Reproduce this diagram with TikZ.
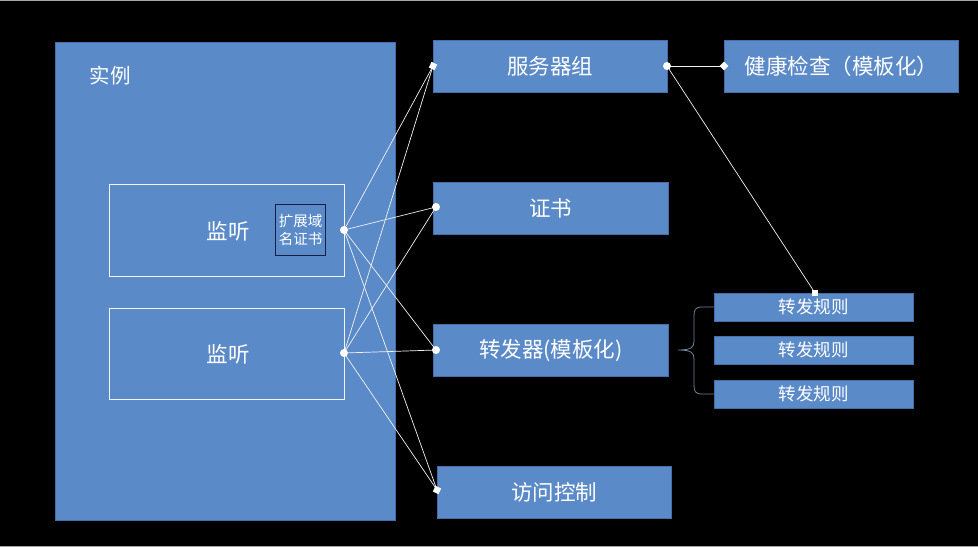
\documentclass[tikz,border=0pt]{standalone}
\usepackage{fontspec}
\setmainfont{Noto Sans CJK SC}
\usetikzlibrary{shapes.geometric}
\definecolor{boxblue}{RGB}{91,138,201}
\definecolor{boxedge}{RGB}{70,110,170}
\definecolor{navy}{RGB}{20,30,70}
\begin{document}
\begin{tikzpicture}[x=1pt,y=-1pt,
  bluebox/.style={draw=boxedge,fill=boxblue,line width=0.6pt,inner sep=0pt,text=white},
  lisbox/.style={draw=white!92!boxblue,line width=1.2pt,inner sep=0pt,text=white},
  conn/.style={draw=white!90!gray,line width=0.7pt},
  dotm/.style={circle,fill=white,inner sep=0pt,minimum size=8pt},
  diam/.style={diamond,fill=white,inner sep=0pt,minimum size=9pt},
  sqm/.style={rectangle,fill=white,inner sep=0pt,minimum size=6pt},
  bigt/.style={font=\fontsize{21.5}{25}\selectfont},
  rulet/.style={font=\fontsize{17.5}{21}\selectfont}]
\fill[black] (0,0) rectangle (978,547);
\useasboundingbox (0,0) rectangle (978,547);
\draw[gray!70,line width=1pt] (0,0.5) -- (978,0.5);
\draw[gray!70,line width=1pt] (0,546.5) -- (978,546.5);

% instance
\node[bluebox,minimum width=340pt,minimum height=478pt,anchor=north west] (inst) at (55,42) {};
\node[text=white,font=\fontsize{20.5}{24}\selectfont,anchor=west] (instlbl) at (86,76) {实例};

% listeners
\node[lisbox,minimum width=235pt,minimum height=92pt,anchor=north west] (lis1) at (109,184) {};
\node[text=white,bigt] (lis1t) at (228,231) {监听};
\node[draw=navy,line width=1.2pt,minimum width=50pt,minimum height=51pt,anchor=north west,inner sep=0pt,text=white,align=center,font=\fontsize{14.5}{18}\selectfont] (cert) at (275,204) {扩展域\\名证书};
\node[lisbox,minimum width=235pt,minimum height=91pt,anchor=north west] (lis2) at (109,308) {};
\node[text=white,bigt] (lis2t) at (228,354) {监听};

% right boxes
\node[bluebox,minimum width=234pt,minimum height=52pt,anchor=north west,bigt] (sg) at (433,40) {服务器组};
\node[bluebox,minimum width=234pt,minimum height=52pt,anchor=north west,bigt] (hc) at (724,40) {健康检查（模板化）};
\node[bluebox,minimum width=235pt,minimum height=52pt,anchor=north west,bigt] (zs) at (433,182) {证书};
\node[bluebox,minimum width=235pt,minimum height=52pt,anchor=north west,bigt] (fw) at (433,324) {转发器(模板化)};
\node[bluebox,minimum width=234pt,minimum height=52pt,anchor=north west,bigt] (ac) at (437,466) {访问控制};
\node[bluebox,minimum width=199pt,minimum height=28pt,anchor=north west,rulet] (r1) at (714,293) {转发规则};
\node[bluebox,minimum width=199pt,minimum height=28pt,anchor=north west,rulet] (r2) at (714,336) {转发规则};
\node[bluebox,minimum width=199pt,minimum height=28pt,anchor=north west,rulet] (r3) at (714,380) {转发规则};

% connection points
\coordinate (p1) at (344,230);
\coordinate (p2) at (344,353);
\coordinate (qsg) at (433,66);
\coordinate (qzs) at (436,207);
\coordinate (qfw) at (436,350);
\coordinate (qac) at (437,490);
\coordinate (sgr) at (667,66);
\coordinate (hcl) at (724,66);
\coordinate (r1t) at (815,293);

\foreach \a in {p1,p2}{
  \foreach \b in {qsg,qzs,qfw,qac}{
    \draw[conn] (\a) -- (\b);
  }
}
\draw[conn] (sgr) -- (hcl);
\draw[conn] (sgr) -- (r1t);

% brace
\draw[draw=gray!60!boxblue,line width=0.8pt] (r1.west |- 0,307) -- (702,307) .. controls (695,307) and (694,310) .. (694,316) -- (694,341) .. controls (694,347) and (692,350) .. (678,350) .. controls (692,350) and (694,353) .. (694,359) -- (694,385) .. controls (694,391) and (695,394) .. (702,394) -- (r3.west |- 0,394);

% markers
\node[dotm] (m1) at (p1) {};
\node[dotm] (m2) at (p2) {};
\node[diam,rotate=20] (m3) at (qsg) {};
\node[dotm] (m4) at (qzs) {};
\node[dotm] (m5) at (qfw) {};
\node[diam,rotate=20] (m6) at (qac) {};
\node[dotm] (m7) at (sgr) {};
\node[diam] (m8) at (hcl) {};
\node[sqm] (m9) at (r1t) {};
\end{tikzpicture}
\end{document}
